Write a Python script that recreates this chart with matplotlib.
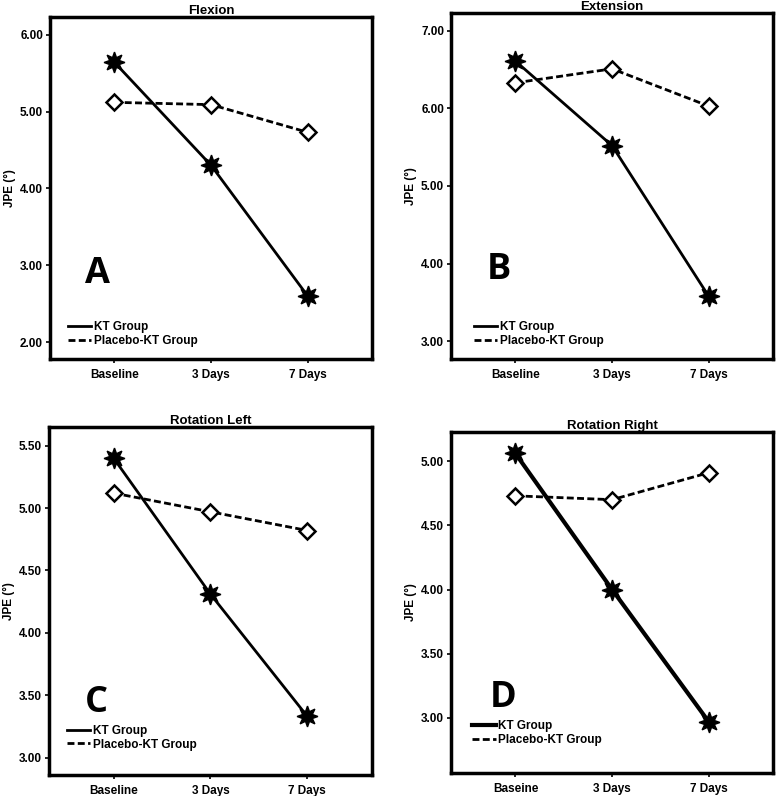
import matplotlib
matplotlib.use("Agg")
import matplotlib.pyplot as plt
from matplotlib.lines import Line2D

plt.rcParams['font.family'] = ['Liberation Sans Narrow', 'Liberation Sans', 'DejaVu Sans']

categories = ["Baseline", "3 Days", "7 Days"]
categories_d = ["Baseine", "3 Days", "7 Days"]

titles = ["Flexion", "Extension", "Rotation Left", "Rotation Right"]
letters = ["A", "B", "C", "D"]

kt_flexion = [5.64, 4.30, 2.60]
placebo_flexion = [5.12, 5.09, 4.73]
kt_extension = [6.61, 5.52, 3.58]
placebo_extension = [6.33, 6.51, 6.03]
kt_rot_left = [5.40, 4.31, 3.33]
placebo_rot_left = [5.12, 4.97, 4.82]
kt_rot_right = [5.06, 4.00, 2.97]
placebo_rot_right = [4.73, 4.70, 4.91]

yticks_a = [2.0, 3.0, 4.0, 5.0, 6.0]
yticks_b = [3.0, 4.0, 5.0, 6.0, 7.0]
yticks_c = [3.0, 3.5, 4.0, 4.5, 5.0, 5.5]
yticks_d = [3.0, 3.5, 4.0, 4.5, 5.0]

fig = plt.figure(figsize=(7.78, 7.96), dpi=100)

panels = [
    dict(pos=[0.0643, 0.549, 0.414, 0.4296], kt=kt_flexion, pl=placebo_flexion,
         ylim=(1.78, 6.23), yt=yticks_a, cats=categories, letter_xy=(0.11, 0.25), kt_lw=2.0,
         leg=(0.055, 0.035)),
    dict(pos=[0.5797, 0.549, 0.414, 0.4347], kt=kt_extension, pl=placebo_extension,
         ylim=(2.77, 7.23), yt=yticks_b, cats=categories, letter_xy=(0.11, 0.257), kt_lw=2.0,
         leg=(0.07, 0.035)),
    dict(pos=[0.063, 0.0264, 0.415, 0.4372], kt=kt_rot_left, pl=placebo_rot_left,
         ylim=(2.86, 5.65), yt=yticks_c, cats=categories, letter_xy=(0.11, 0.207), kt_lw=2.0,
         leg=(0.055, 0.07)),
    dict(pos=[0.5797, 0.0289, 0.414, 0.4288], kt=kt_rot_right, pl=placebo_rot_right,
         ylim=(2.57, 5.23), yt=yticks_d, cats=categories_d, letter_xy=(0.12, 0.22), kt_lw=3.0,
         leg=(0.065, 0.08)),
]

x = [0, 1, 2]
for i, p in enumerate(panels):
    ax = fig.add_axes(p['pos'])
    ax.plot(x, p['pl'], linestyle=(0, (2.5, 1.2)), color='black', lw=2.0,
            marker='D', markersize=8.5, markerfacecolor='white',
            markeredgecolor='black', markeredgewidth=1.8, zorder=3)
    ax.plot(x, p['kt'], linestyle='-', color='black', lw=p['kt_lw'],
            marker=(8, 1, 0), markersize=15, markerfacecolor='black',
            markeredgecolor='black', zorder=4)
    ax.set_xlim(-0.667, 2.667)
    ax.set_ylim(*p['ylim'])
    ax.set_xticks(x)
    ax.set_xticklabels(p['cats'], fontsize=8.5, fontweight='bold')
    ax.set_yticks(p['yt'])
    ax.set_yticklabels(["%.2f" % v for v in p['yt']], fontsize=8.5, fontweight='bold')
    ax.tick_params(axis='both', direction='out', length=3, width=1.2, pad=2)
    ax.tick_params(axis='x', pad=4)
    for s in ax.spines.values():
        s.set_linewidth(2.5)
    ax.set_title(titles[i], fontsize=9.5, fontweight='bold', pad=2)
    ax.set_ylabel("JPE (°)", fontsize=8.5, fontweight='bold')
    ax.yaxis.set_label_coords(-0.105, 0.5)
    ax.text(p['letter_xy'][0], p['letter_xy'][1], letters[i], transform=ax.transAxes,
            fontsize=26, fontweight='bold', family=['Open Sans', 'DejaVu Sans'],
            ha='left', va='center')
    handles = [Line2D([0], [0], color='black', lw=p['kt_lw']),
               Line2D([0], [0], color='black', lw=2.0, linestyle=(0, (2.5, 1.2)))]
    ax.legend(handles, ["KT Group", "Placebo-KT Group"], loc='lower left',
              bbox_to_anchor=p['leg'], frameon=False, handlelength=2.0,
              handletextpad=0.2, labelspacing=0.15, borderpad=0, borderaxespad=0,
              prop={'weight': 'bold', 'size': 8.5})

fig.savefig("out.png", dpi=100)
